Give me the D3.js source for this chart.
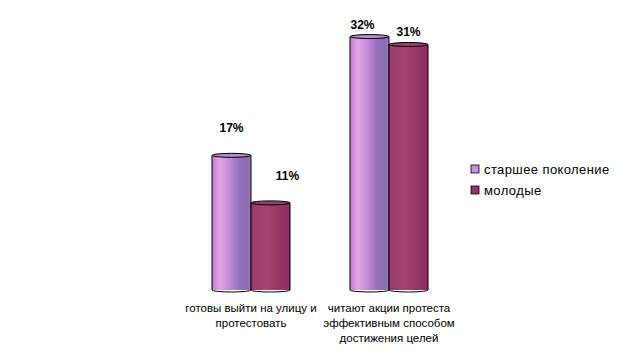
<!DOCTYPE html>
<html>
<head>
<meta charset="utf-8">
<script src="https://cdn.jsdelivr.net/npm/d3@7"></script>
<style>
  body { margin: 0; background: #fff; }
  text { font-family: "Liberation Sans", Arial, sans-serif; fill: #000; }
</style>
</head>
<body>
<div id="chart"></div>
<script>
// data
const categories = [
  ["готовы выйти на улицу и", "протестовать"],
  ["читают акции протеста", "эффективным способом", "достижения целей"]
];
const seriesNames = ["старшее поколение", "молодые"];
const olderValues = [17, 32];
const youngValues = [11, 31];
// excel-ish label placement, per group / series
const labelShift = [[0, 17], [-7, 0]];
const labelLift = [23, 8];

const width = 637, height = 352;

const svg = d3.select("#chart").append("svg")
  .attr("width", width)
  .attr("height", height);

const defs = svg.append("defs");

// cylinder shading
const grad1 = defs.append("linearGradient").attr("id", "g-old");
[[0, "#c47ccc"], [0.2, "#e2a6e6"], [0.45, "#c48ad6"], [0.7, "#9470bc"], [0.9, "#8a6cb0"], [1, "#a07cb8"]]
  .forEach(s => grad1.append("stop").attr("offset", s[0]).attr("stop-color", s[1]));
const grad2 = defs.append("linearGradient").attr("id", "g-young");
[[0, "#9a3a6c"], [0.4, "#a2456f"], [1, "#8c2c5e"]]
  .forEach(s => grad2.append("stop").attr("offset", s[0]).attr("stop-color", s[1]));
const fills = ["url(#g-old)", "url(#g-young)"];
const capFills = ["#b78ad0", "#9b3d6a"];

const keys = categories.map((c, i) => i);

const x0 = d3.scaleBand().domain(keys).range([182, 458]);
const x1 = d3.scaleBand().domain([0, 1]).range([30, 108]);
const y = d3.scaleLinear().domain([0, 35]).range([290, 290 - 35 * 7.92]);

const rows = keys.map(k => [
  {k, s: 0, v: olderValues[k]},
  {k, s: 1, v: youngValues[k]}
]);

const groups = svg.selectAll("g.grp")
  .data(rows)
  .join("g")
  .attr("class", "grp")
  .attr("transform", (d, i) => `translate(${x0(i)},0)`);

const ry = 2;
const bars = groups.selectAll("g.bar")
  .data(d => d)
  .join("g")
  .attr("class", "bar");

bars.append("rect")
  .attr("x", d => x1(d.s))
  .attr("y", d => y(d.v))
  .attr("width", x1.bandwidth())
  .attr("height", d => y(0) - y(d.v))
  .attr("fill", d => fills[d.s]);

bars.append("path")
  .attr("d", d => {
    const xa = x1(d.s), xb = xa + x1.bandwidth();
    return `M${xa},${y(d.v)}L${xa},${y(0)}A${(xb - xa) / 2},${ry} 0 0 0 ${xb},${y(0)}L${xb},${y(d.v)}`;
  })
  .attr("fill", "none")
  .attr("stroke", "#000")
  .attr("stroke-width", 1);

bars.append("ellipse")
  .attr("cx", d => x1(d.s) + x1.bandwidth() / 2)
  .attr("cy", d => y(d.v))
  .attr("rx", x1.bandwidth() / 2)
  .attr("ry", ry)
  .attr("fill", d => capFills[d.s])
  .attr("stroke", "#000")
  .attr("stroke-width", 1);

// value labels
bars.append("text")
  .attr("x", d => x1(d.s) + x1.bandwidth() / 2 + labelShift[d.k][d.s])
  .attr("y", d => y(d.v) - labelLift[d.k])
  .attr("text-anchor", "middle")
  .attr("font-size", 12)
  .attr("font-weight", "bold")
  .text(d => d.v + "%");

// category labels
svg.selectAll("text.cat")
  .data(keys)
  .join("text")
  .attr("class", "cat")
  .attr("text-anchor", "middle")
  .attr("font-size", 11.5)
  .attr("transform", k => `translate(${x0(k) + x0.bandwidth() / 2},312)`)
  .selectAll("tspan")
  .data(k => categories[k])
  .join("tspan")
  .attr("x", 0)
  .attr("y", (d, i) => i * 15)
  .text(d => d);

// legend
const legend = svg.append("g").attr("transform", "translate(471,165)");
const li = legend.selectAll("g")
  .data(seriesNames)
  .join("g")
  .attr("transform", (d, i) => `translate(0,${i * 21})`);
li.append("rect")
  .attr("width", 8).attr("height", 8)
  .attr("fill", (d, i) => i === 0 ? "#c590d8" : "#993366")
  .attr("stroke", "#000").attr("stroke-width", 0.8);
li.append("text")
  .attr("x", 13)
  .attr("y", 9)
  .attr("font-size", 13)
  .attr("letter-spacing", 0.4)
  .text(d => d);
</script>
</body>
</html>
